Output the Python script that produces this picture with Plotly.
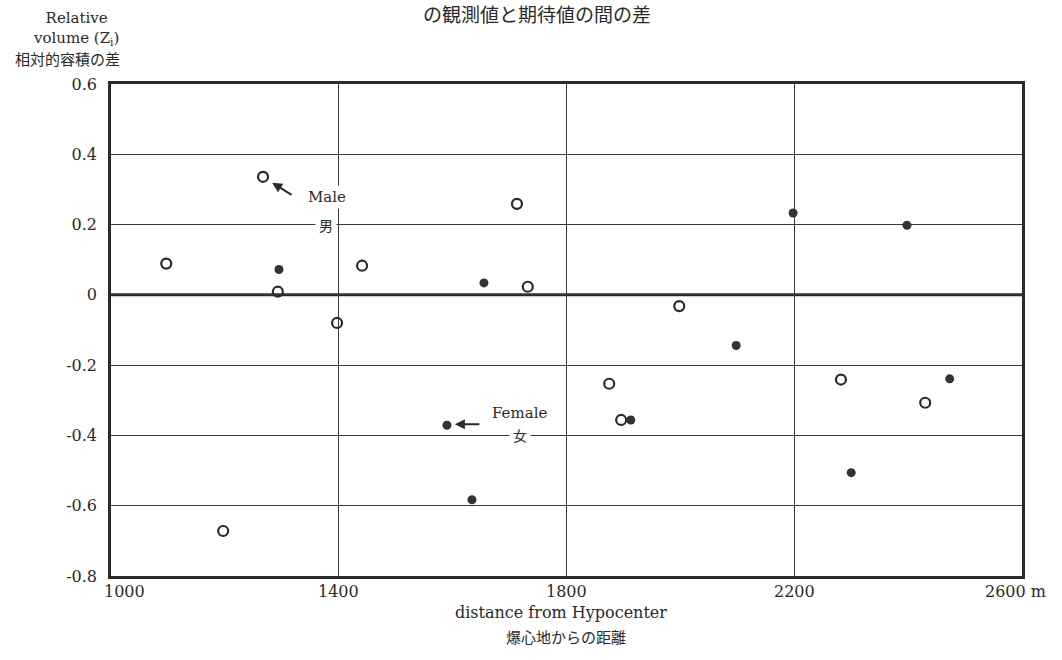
import plotly.graph_objects as go

# Data
male_x = [1097, 1267, 1293, 1397, 1441, 1713, 1732, 1998, 1875, 1896, 1197, 2282, 2430]
male_y = [0.089, 0.336, 0.009, -0.080, 0.083, 0.259, 0.023, -0.032, -0.253, -0.356, -0.672, -0.241, -0.307]
female_x = [1295, 1655, 1590, 1634, 1913, 2098, 2198, 2300, 2398, 2473]
female_y = [0.072, 0.034, -0.371, -0.583, -0.356, -0.144, 0.233, -0.506, 0.198, -0.239]

x_ticks = [1000, 1400, 1800, 2200, 2600]
x_ticktext = ["1000", "1400", "1800", "2200", "2600 m"]
y_ticks = [0.6, 0.4, 0.2, 0, -0.2, -0.4, -0.6, -0.8]
y_ticktext = ["0.6", "0.4", "0.2", "0", "-0.2", "-0.4", "-0.6", "-0.8"]

SERIF = "DejaVu Serif"
CJK = "Noto Sans CJK JP"
INK = "#2a2a2a"

W, H = 1062, 660
L, T = 111, 84
R = W - 1022
B = H - 576
pw, ph = W - L - R, H - T - B

fig = go.Figure()
fig.add_trace(go.Scatter(
    x=male_x, y=male_y, mode="markers", name="Male",
    marker=dict(symbol="circle-open", size=10, color=INK, line=dict(width=2.2, color=INK)),
))
fig.add_trace(go.Scatter(
    x=female_x, y=female_y, mode="markers", name="Female",
    marker=dict(symbol="circle", size=9, color="#333333"),
))

# zero line (thick)
fig.add_shape(type="line", xref="x", yref="y", x0=1000, x1=2600, y0=0, y1=0,
              line=dict(color=INK, width=3), layer="below")

annotations = []
# x tick labels
x_shifts = [13, 0, 0, 0, -7]
for v, t, s in zip(x_ticks, x_ticktext, x_shifts):
    annotations.append(dict(x=v, y=0, xref="x", yref="paper", text=t, showarrow=False,
                            xanchor="center", yanchor="top", yshift=-4, xshift=s,
                            font=dict(family=SERIF, size=16, color=INK)))

# labels on chart
annotations += [
    dict(x=1283, y=0.319, xref="x", yref="y", text="", showarrow=True, ax=21, ay=13,
         arrowhead=2, arrowsize=1, arrowwidth=2, arrowcolor=INK),
    dict(x=1604, y=-0.368, xref="x", yref="y", text="", showarrow=True, ax=26, ay=0,
         arrowhead=2, arrowsize=1, arrowwidth=2, arrowcolor=INK),
    dict(x=1400, y=0.279, xref="x", yref="y", text="Male", showarrow=False,
         font=dict(family=SERIF, size=15, color=INK), bgcolor="white", xanchor="center",
         xshift=-12, borderpad=2),
    dict(x=1400, y=0.2, xref="x", yref="y", text="男", showarrow=False,
         font=dict(family=CJK, size=14, color=INK), bgcolor="white", xanchor="center",
         xshift=-13, borderpad=3),
    dict(x=1718, y=-0.337, xref="x", yref="y", text="Female", showarrow=False,
         font=dict(family=SERIF, size=15, color=INK), xanchor="center"),
    dict(x=1718, y=-0.4, xref="x", yref="y", text="女", showarrow=False,
         font=dict(family=CJK, size=14, color=INK), bgcolor="white", xanchor="center",
         borderpad=3),
]

# text placed by page pixel position
pixel_texts = [
    (537, 13, "の観測値と期待値の間の差", CJK, 19),
    (76, 29, "Relative<br>volume (Z<sub>i</sub>)", SERIF, 15),
    (67, 58, "相対的容積の差", CJK, 15),
    (561, 612, "distance from Hypocenter", SERIF, 16),
    (566, 636, "爆心地からの距離", CJK, 15),
]
for px, py, txt, fam, sz in pixel_texts:
    annotations.append(dict(
        x=(px - L) / pw, y=(H - B - py) / ph, xref="paper", yref="paper",
        text=txt, showarrow=False, xanchor="center", yanchor="middle",
        font=dict(family=fam, size=sz, color=INK)))

fig.update_layout(
    width=W, height=H,
    margin=dict(l=L, r=R, t=T, b=B),
    paper_bgcolor="white", plot_bgcolor="white",
    showlegend=False,
    annotations=annotations,
    xaxis=dict(range=[1000, 2600], tickvals=[1400, 1800, 2200], showticklabels=False,
               showgrid=True, gridcolor="#3a3a3a", gridwidth=1.3, zeroline=False,
               showline=True, mirror=True, linecolor=INK, linewidth=2.5, ticks=""),
    yaxis=dict(range=[-0.8, 0.6], tickvals=y_ticks, ticktext=y_ticktext,
               showgrid=True, gridcolor="#3a3a3a", gridwidth=1.3, zeroline=False,
               showline=True, mirror=True, linecolor=INK, linewidth=2.5, ticks="",
               ticklabelstandoff=8,
               tickfont=dict(family=SERIF, size=16, color=INK)),
)

fig.write_html("out.html", config={"displayModeBar": False},
               post_script="document.body.style.margin='0';document.body.style.overflow='hidden';")
